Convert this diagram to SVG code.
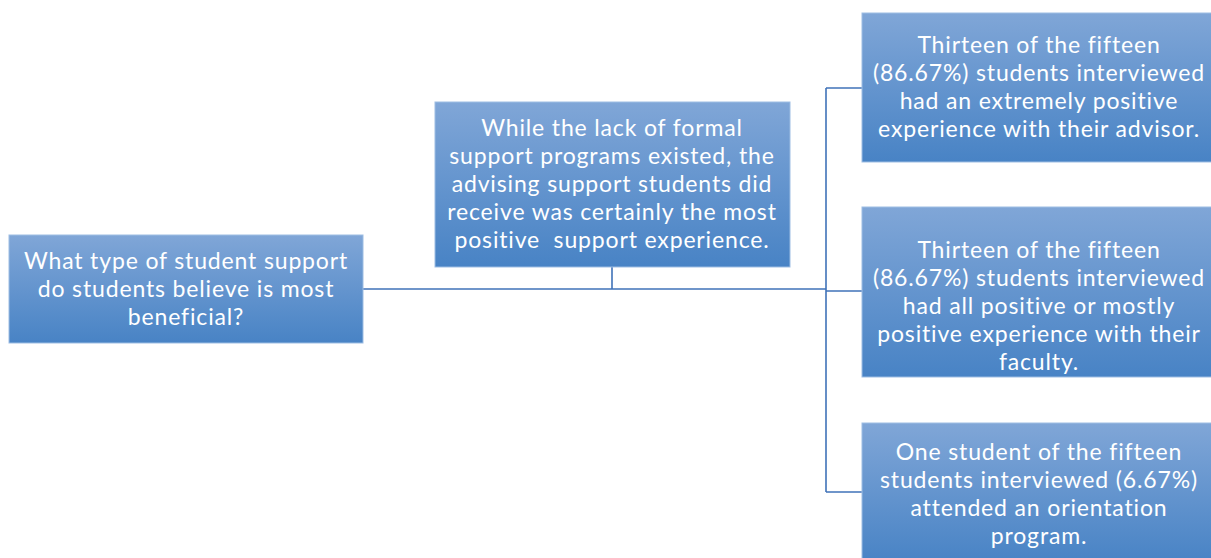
<svg xmlns="http://www.w3.org/2000/svg" width="1211" height="558" viewBox="0 0 1211 558">
<defs>
<linearGradient id="g" x1="0" y1="0" x2="0" y2="1">
<stop offset="0" stop-color="#80A6D7"/>
<stop offset="1" stop-color="#4883C5"/>
</linearGradient>
<style>
.box{fill:url(#g);stroke:#9DBDE3;stroke-width:1}
.t{font-family:Lato,"Liberation Sans",Arial,sans-serif;font-size:23px;letter-spacing:0.85px;fill:#FFFFFF;text-anchor:middle}
.c{fill:none;stroke:#3F72B8;stroke-width:1.6}
</style>
</defs>
<rect width="1211" height="558" fill="#FFFFFF"/>
<g id="connectors">
<path class="c" d="M363,289 H826"/>
<path class="c" d="M612,267 V289"/>
<path class="c" d="M826,88 V492"/>
<path class="c" d="M826,88 H862"/>
<path class="c" d="M826,291 H862"/>
<path class="c" d="M826,492 H862"/>
</g>
<g id="root">
<rect class="box" x="9" y="235" width="354" height="108"/>
<text class="t" x="186" y="269">What type of student support</text>
<text class="t" x="186" y="297">do students believe is most</text>
<text class="t" x="186" y="325">beneficial?</text>
</g>
<g id="summary">
<rect class="box" x="435" y="102" width="355" height="165"/>
<text class="t" x="612" y="136">While the lack of formal</text>
<text class="t" x="612" y="164">support programs existed, the</text>
<text class="t" x="612" y="192">advising support students did</text>
<text class="t" x="612" y="220">receive was certainly the most</text>
<text class="t" x="612" y="248" xml:space="preserve">positive  support experience.</text>
</g>
<g id="advisor">
<rect class="box" x="862" y="13" width="356" height="149"/>
<text class="t" x="1039" y="53">Thirteen of the fifteen</text>
<text class="t" x="1039" y="81">(86.67%) students interviewed</text>
<text class="t" x="1039" y="109">had an extremely positive</text>
<text class="t" x="1039" y="137">experience with their advisor.</text>
</g>
<g id="faculty">
<rect class="box" x="862" y="207" width="356" height="170"/>
<text class="t" x="1039" y="258">Thirteen of the fifteen</text>
<text class="t" x="1039" y="286">(86.67%) students interviewed</text>
<text class="t" x="1039" y="314">had all positive or mostly</text>
<text class="t" x="1039" y="342">positive experience with their</text>
<text class="t" x="1039" y="370">faculty.</text>
</g>
<g id="orientation">
<rect class="box" x="862" y="423" width="356" height="140"/>
<text class="t" x="1039" y="460">One student of the fifteen</text>
<text class="t" x="1039" y="488">students interviewed (6.67%)</text>
<text class="t" x="1039" y="516">attended an orientation</text>
<text class="t" x="1039" y="544">program.</text>
</g>
</svg>
